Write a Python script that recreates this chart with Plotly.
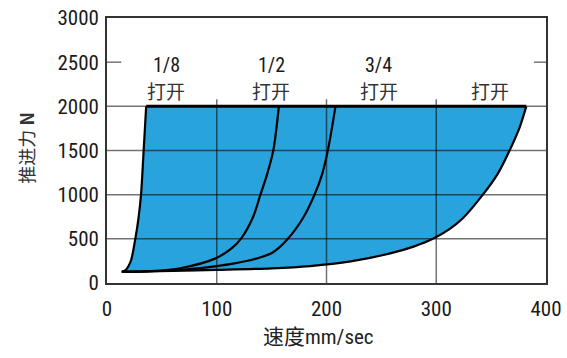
import plotly.graph_objects as go

# ---- data (speed mm/sec, thrust N) ----
eighth_x = [13.5, 16.9, 19.5, 22, 25.8, 28.8, 31, 33.4, 35.7]
eighth_y = [126, 145, 190, 260, 500, 744, 1000, 1500, 2000]

half_x = [13.5, 40, 67.6, 98.4, 113.2, 122, 133, 139.8, 146, 151.5, 156.6]
half_y = [127, 134, 170, 276, 389, 500, 744, 1000, 1236, 1500, 2000]

threeq_x = [13.5, 40, 67.6, 100, 115, 136, 151, 164.8, 179, 189.1, 196.1, 201.2, 208.2]
threeq_y = [127, 133, 150, 192, 219, 276, 345, 500, 744, 1000, 1236, 1500, 2000]

full_x = [13.5, 60, 100, 150, 185, 222, 258, 280, 297, 312, 324, 342.5, 356, 366.8, 376, 382]
full_y = [127, 137, 148, 166, 192, 245, 335, 415, 500, 610, 730, 1000, 1236, 1500, 1763, 2000]

max_force = 2000
x_ticks = [0, 100, 200, 300, 400]
y_ticks = [0, 500, 1000, 1500, 2000, 2500, 3000]
grid_y = [500, 1000, 1500, 2000]
grid_x = [100, 200, 300]

open_labels = ["1/8", "1/2", "3/4", ""]
open_label_x = [54, 149.7, 247.5, 348.7]
open_word = "打开"

FONT_LAT = "Roboto Condensed, Roboto, Noto Sans CJK SC, sans-serif"
FONT_CJK = "Noto Sans CJK SC, Roboto, sans-serif"
BLUE = "#29A3DC"
LINE = dict(color="black", width=2.2, shape="spline", smoothing=0.9)

fig = go.Figure()

# left boundary (1/8 open), then full-open boundary filled back to it
fig.add_trace(go.Scatter(x=eighth_x, y=eighth_y, mode="lines", line=LINE,
                         hoverinfo="skip", showlegend=False))
fig.add_trace(go.Scatter(x=full_x, y=full_y, mode="lines", line=LINE,
                         fill="tonexty", fillcolor=BLUE,
                         hoverinfo="skip", showlegend=False))
fig.add_trace(go.Scatter(x=half_x, y=half_y, mode="lines", line=LINE,
                         hoverinfo="skip", showlegend=False))
fig.add_trace(go.Scatter(x=threeq_x, y=threeq_y, mode="lines", line=LINE,
                         hoverinfo="skip", showlegend=False))
fig.add_trace(go.Scatter(x=[eighth_x[-1], full_x[-1]], y=[max_force, max_force], mode="lines",
                         line=dict(color="black", width=3),
                         hoverinfo="skip", showlegend=False))

shapes = []
gcol = "rgba(0,0,0,0.55)"
for gy in grid_y:
    shapes.append(dict(type="line", xref="x", yref="y", x0=0, x1=400, y0=gy, y1=gy,
                       line=dict(color=gcol, width=1.5), layer="above"))
for gx in grid_x:
    shapes.append(dict(type="line", xref="x", yref="y", x0=gx, x1=gx, y0=0, y1=2080,
                       line=dict(color=gcol, width=1.5), layer="above"))
# short ticks at 2500 on both frame sides
shapes.append(dict(type="line", xref="x", yref="y", x0=0, x1=13, y0=2500, y1=2500,
                   line=dict(color=gcol, width=1.5), layer="above"))
shapes.append(dict(type="line", xref="x", yref="y", x0=389, x1=400, y0=2500, y1=2500,
                   line=dict(color=gcol, width=1.5), layer="above"))

annotations = []
for lab, lx in zip(open_labels, open_label_x):
    if lab:
        annotations.append(dict(x=lx, y=2472, xref="x", yref="y", text=lab, showarrow=False,
                                yanchor="middle", borderpad=0,
                                font=dict(family=FONT_LAT, size=20, color="#1a1a1a")))
    annotations.append(dict(x=lx, y=2183, xref="x", yref="y", text=open_word, showarrow=False,
                            yanchor="middle", borderpad=0,
                            font=dict(family=FONT_CJK, size=19, color="#333333")))

annotations.append(dict(x=-0.185, y=0.51, xref="paper", yref="paper", text="推进力 <b>N</b>",
                        textangle=-90, showarrow=False, xanchor="center", yanchor="middle",
                        font=dict(family=FONT_CJK, size=18, color="#333333")))
annotations.append(dict(x=0.481, y=-0.198, xref="paper", yref="paper",
                        text="速度<span style='font-family:Roboto Condensed, Roboto'>mm/sec</span>",
                        showarrow=False, xanchor="center", yanchor="middle",
                        font=dict(family=FONT_CJK, size=21, color="#222222")))

fig.update_layout(
    width=567, height=358,
    margin=dict(l=107, r=21, t=18, b=75),
    paper_bgcolor="white", plot_bgcolor="white",
    shapes=shapes, annotations=annotations,
    showlegend=False,
)
fig.update_xaxes(range=[0, 400], tickvals=x_ticks, showgrid=False, zeroline=False,
                 showline=True, mirror=True, linecolor="#333333", linewidth=1.8,
                 ticks="", ticklabelstandoff=6, automargin=False,
                 tickfont=dict(family=FONT_LAT, size=21, color="#1a1a1a"))
fig.update_yaxes(range=[0, 3000], tickvals=y_ticks, showgrid=False, zeroline=False,
                 showline=True, mirror=True, linecolor="#333333", linewidth=1.8,
                 ticks="", ticklabelstandoff=2, automargin=False,
                 tickfont=dict(family=FONT_LAT, size=21, color="#1a1a1a"))

fig.write_html("out.html", config={"displayModeBar": False},
               post_script="document.body.style.margin='0px';")
